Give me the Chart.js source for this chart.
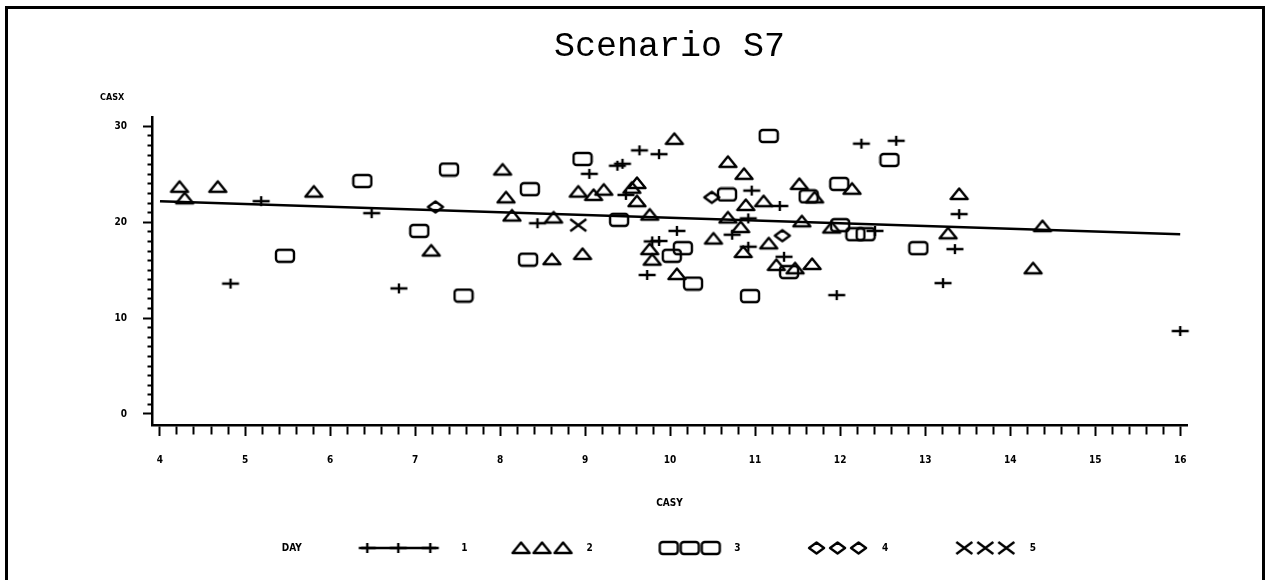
<!DOCTYPE html>
<html>
<head>
<meta charset="utf-8">
<title>Scenario S7</title>
<script src="https://cdn.jsdelivr.net/npm/chart.js@4.4.1/dist/chart.umd.min.js"></script>
<style>
  html, body { margin: 0; padding: 0; background: #fff; }
  #frame {
    position: absolute; left: 5px; top: 6px; width: 1254px; height: 580px;
    border-top: 3px solid #000; border-left: 3px solid #000; border-right: 3px solid #000;
  }
  #plot { position: absolute; left: 0; top: 0; }
</style>
</head>
<body>
<div id="frame"></div>
<canvas id="plot" width="1265" height="580"></canvas>
<script>
/* =================================================
  Data
==================================================== */

const day1X = [4.83, 5.19, 6.49, 6.81, 8.44, 9.05, 9.38, 9.44, 9.48, 9.64, 9.73, 9.79, 9.87, 9.87, 10.08,
  10.73, 10.92, 10.92, 10.96, 11.29, 11.34, 11.96, 12.25, 12.41, 12.66, 13.21, 13.35, 13.40, 16.0];
const day1Y = [13.6, 22.2, 20.95, 13.1, 19.9, 25.05, 25.9, 26.1, 22.85, 27.5, 14.5, 18.0, 18.05, 27.1, 19.1,
  18.7, 20.4, 17.45, 23.3, 21.7, 16.4, 12.4, 28.2, 19.1, 28.5, 13.65, 17.2, 20.85, 8.65];

const day2X = [4.23, 4.29, 4.68, 5.81, 7.19, 8.03, 8.07, 8.14, 8.61, 8.63, 8.92, 8.97, 9.10, 9.22, 9.55,
  9.61, 9.61, 9.76, 9.76, 9.79, 10.05, 10.08, 10.51, 10.68, 10.68, 10.83, 10.86, 10.87, 10.89, 11.10,
  11.16, 11.25, 11.47, 11.52, 11.55, 11.67, 11.70, 11.90, 12.14, 13.27, 13.40, 14.27, 14.38];
const day2Y = [23.7, 22.5, 23.7, 23.2, 17.05, 25.5, 22.6, 20.7, 16.15, 20.5, 23.2, 16.7, 22.85, 23.4, 23.6,
  24.1, 22.2, 20.8, 17.2, 16.1, 28.7, 14.6, 18.3, 26.3, 20.5, 19.5, 16.9, 25.05, 21.8, 22.2,
  17.8, 15.55, 15.2, 24.0, 20.1, 15.65, 22.6, 19.45, 23.5, 18.85, 22.95, 15.2, 19.6];

const day3X = [5.47, 6.38, 7.05, 7.40, 7.57, 8.33, 8.35, 8.97, 9.40, 10.02, 10.15, 10.27, 10.67, 10.94,
  11.16, 11.40, 11.63, 11.99, 12.0, 12.18, 12.30, 12.58, 12.92];
const day3Y = [16.5, 24.3, 19.1, 25.5, 12.35, 16.1, 23.45, 26.6, 20.25, 16.5, 17.3, 13.6, 22.9, 12.3,
  29.0, 14.8, 22.7, 24.0, 19.7, 18.75, 18.75, 26.5, 17.3];

const day4X = [7.24, 10.49, 11.32];
const day4Y = [21.6, 22.6, 18.6];

const day5X = [8.92];
const day5Y = [19.7];

// fitted line, ends as drawn
const fitX = [4, 16];
const fitY = [22.2, 18.75];

const dayNames = ['1', '2', '3', '4', '5'];
const dayShapes = ['plus', 'triangle', 'square', 'diamond', 'cross'];
const xTickLabels = [4, 5, 6, 7, 8, 9, 10, 11, 12, 13, 14, 15, 16];
const yTickLabels = [0, 10, 20, 30];
const xMinorStep = 0.2;
const yMinorStep = 1;

/* =================================================
  Plot symbols
==================================================== */

function drawShape(ctx, shape, cx, cy) {
  ctx.beginPath();
  if (shape === 'plus') {
    ctx.moveTo(cx - 8.5, cy); ctx.lineTo(cx + 8.5, cy);
    ctx.moveTo(cx, cy - 5); ctx.lineTo(cx, cy + 5);
  } else if (shape === 'triangle') {
    ctx.moveTo(cx, cy - 5.5); ctx.lineTo(cx + 8.5, cy + 5); ctx.lineTo(cx - 8.5, cy + 5);
    ctx.closePath();
  } else if (shape === 'square') {
    ctx.roundRect(cx - 9, cy - 6, 18, 12, 3);
  } else if (shape === 'diamond') {
    ctx.moveTo(cx, cy - 5.5); ctx.lineTo(cx + 7.5, cy); ctx.lineTo(cx, cy + 5.5); ctx.lineTo(cx - 7.5, cy);
    ctx.closePath();
  } else if (shape === 'cross') {
    ctx.moveTo(cx - 8, cy - 6); ctx.lineTo(cx + 8, cy + 6);
    ctx.moveTo(cx + 8, cy - 6); ctx.lineTo(cx - 8, cy + 6);
  }
  ctx.stroke();
}

function newCanvas(w, h) {
  const c = document.createElement('canvas');
  c.width = w;
  c.height = h;
  const ctx = c.getContext('2d');
  ctx.strokeStyle = '#000';
  ctx.lineWidth = 2.4;
  ctx.lineJoin = 'round';
  return c;
}

function markerCanvas(shape) {
  const c = newCanvas(22, 16);
  drawShape(c.getContext('2d'), shape, 11, 8);
  return c;
}

// legend swatch: three symbols pushed to the right of the box, so the text sits close
const legendBoxWidth = 104;

function legendCanvas(shape) {
  const c = newCanvas(legendBoxWidth, 16);
  const ctx = c.getContext('2d');
  if (shape === 'plus') {
    const start = legendBoxWidth - 20 - 75;
    ctx.beginPath();
    ctx.moveTo(start, 8); ctx.lineTo(start + 75, 8);
    ctx.stroke();
    [6, 37, 69].forEach(dx => drawShape(ctx, shape, start + dx, 8));
  } else {
    const start = legendBoxWidth - 10 - 59;
    [8.5, 29.5, 50.5].forEach(dx => drawShape(ctx, shape, start + dx, 8));
  }
  return c;
}

const blankCanvas = newCanvas(legendBoxWidth, 16);

// legend texts, spaced out like the original key
const em = '\u2003', en = '\u2002', thin = '\u2009';
const legendTitle = em + thin + 'DAY' + em + em + em + em + en;
const legendTexts = dayNames.map((name, i) => i > 0 && i < dayNames.length - 1 ? name + em + em + en : name);

/* =================================================
  Chart
==================================================== */

const tickFont = { family: "'Liberation Sans Narrow', 'DejaVu Sans Condensed', sans-serif", size: 10, weight: 'bold' };

function points(xs, ys) {
  return xs.map((x, i) => ({ x: x, y: ys[i] }));
}

const dayX = [day1X, day2X, day3X, day4X, day5X];
const dayY = [day1Y, day2Y, day3Y, day4Y, day5Y];

const datasets = dayNames.map((name, i) => ({
  label: name,
  data: points(dayX[i], dayY[i]),
  pointStyle: markerCanvas(dayShapes[i]),
  pointRadius: 5,
  showLine: false,
  clip: false
}));

datasets.push({
  label: 'fit',
  type: 'line',
  data: points(fitX, fitY),
  borderColor: '#000',
  borderWidth: 2.5,
  pointRadius: 0,
  fill: false,
  tension: 0
});

const isWhole = v => Math.abs(v - Math.round(v)) < 1e-6;

const plotOptions = {
  responsive: false,
  animation: false,
  devicePixelRatio: 1,
  layout: {
    padding: { left: 100, right: 78, top: 10, bottom: 17 }
  },
  scales: {
    x: {
      type: 'linear',
      min: 3.906,
      max: 16.08,
      afterBuildTicks: scale => {
        const ticks = [];
        for (let i = 0; i <= (xTickLabels[xTickLabels.length - 1] - xTickLabels[0]) / xMinorStep + 1e-6; i++) {
          ticks.push({ value: xTickLabels[0] + i * xMinorStep });
        }
        scale.ticks = ticks;
      },
      afterFit: scale => { scale.height = 108; },
      border: { display: true, color: '#000', width: 2.5 },
      grid: {
        drawOnChartArea: false,
        drawTicks: true,
        tickLength: 11,
        tickWidth: 2,
        tickColor: '#000',
        tickBorderDash: ctx => isWhole(ctx.tick.value) ? [] : [8, 100]
      },
      ticks: {
        autoSkip: false,
        maxRotation: 0,
        padding: 18,
        color: '#000',
        font: tickFont,
        callback: v => {
          const r = Math.round(v);
          return isWhole(v) && xTickLabels.includes(r) ? String(r) : '';
        }
      },
      title: {
        display: true,
        text: 'CASY',
        color: '#000',
        font: tickFont,
        padding: { top: 0, bottom: 24 }
      }
    },
    y: {
      type: 'linear',
      min: -1.15,
      max: 31.0,
      afterBuildTicks: scale => {
        const ticks = [];
        for (let v = 0; v <= yTickLabels[yTickLabels.length - 1]; v += yMinorStep) {
          ticks.push({ value: v });
        }
        scale.ticks = ticks;
      },
      afterFit: scale => { scale.width = 52; },
      border: { display: true, color: '#000', width: 2.5 },
      grid: {
        drawOnChartArea: false,
        drawTicks: true,
        tickLength: 9,
        tickWidth: 2,
        tickColor: '#000',
        tickBorderDash: ctx => yTickLabels.includes(ctx.tick.value) ? [] : [0, 4.5, 5, 100]
      },
      ticks: {
        autoSkip: false,
        padding: 16,
        color: '#000',
        font: tickFont,
        callback: v => yTickLabels.includes(v) ? String(v) : ''
      }
    }
  },
  plugins: {
    title: {
      display: true,
      text: 'Scenario S7',
      fullSize: false,
      color: '#000',
      font: { family: "'Liberation Mono', 'Courier New', monospace", size: 35, weight: 'normal', lineHeight: 1.2 },
      padding: { top: 16, bottom: 24.5 }
    },
    subtitle: {
      display: true,
      text: 'CASX',
      align: 'start',
      color: '#000',
      font: { family: tickFont.family, size: 9, weight: 'bold', lineHeight: 1.2 },
      padding: { top: 0, bottom: 13.5 }
    },
    legend: {
      position: 'bottom',
      align: 'start',
      fullSize: false,
      labels: {
        usePointStyle: true,
        pointStyleWidth: legendBoxWidth,
        padding: 10,
        color: '#000',
        font: tickFont,
        generateLabels: () => [{
          text: legendTitle,
          pointStyle: blankCanvas,
          fontColor: '#000',
          fillStyle: 'rgba(0,0,0,0)',
          strokeStyle: 'rgba(0,0,0,0)',
          lineWidth: 0,
          hidden: false
        }].concat(dayNames.map((name, i) => ({
          text: legendTexts[i],
          pointStyle: legendCanvas(dayShapes[i]),
          fontColor: '#000',
          fillStyle: 'rgba(0,0,0,0)',
          strokeStyle: '#000',
          lineWidth: 0,
          hidden: false,
          datasetIndex: i
        })))
      }
    },
    tooltip: { enabled: false }
  }
};

const plot = new Chart(document.getElementById('plot'), {
  type: 'scatter',
  data: { datasets: datasets },
  options: plotOptions
});
</script>
</body>
</html>
